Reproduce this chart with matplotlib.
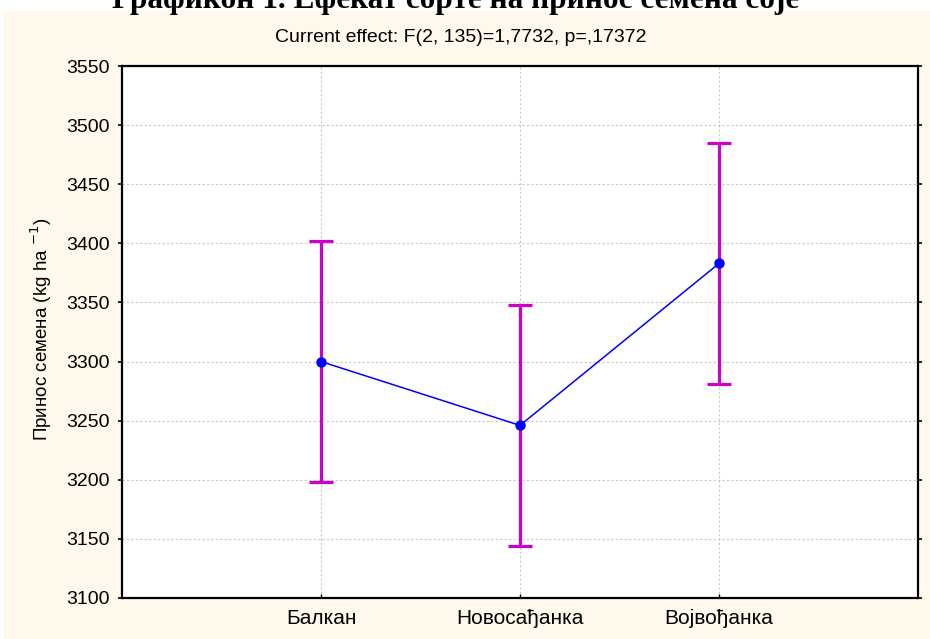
import numpy as np
import matplotlib.pyplot as plt
from matplotlib.patches import Rectangle

# variety means and 95% CI half-width
varieties = ["Балкан", "Новосађанка", "Војвођанка"]
means = [3300, 3246, 3383]
ci_half = [102, 102, 102]
yticks = [3100, 3150, 3200, 3250, 3300, 3350, 3400, 3450, 3500, 3550]

title = "Графикон 1. Ефекат сорте на принос семена соје"
subtitle = "Current effect: F(2, 135)=1,7732, p=,17372"
ylabel = "Принос семена (kg ha $^{-1}$)"

W, H = 930, 639
fig = plt.figure(figsize=(W / 100, H / 100), dpi=100)
fig.patch.set_facecolor("white")

# beige panel behind the graph
fig.patches.append(Rectangle((4 / W, 0), 1 - 4 / W, 1 - 11 / H, transform=fig.transFigure,
                             facecolor="#FEF9EC", edgecolor="none", zorder=-10))

# bold title, cut at the top edge like in the source image
fig.text(0.49, 1 - 8 / H, title, ha="center", va="baseline",
         fontsize=22.5, fontweight="bold", family="Liberation Serif", color="black")

fig.text(461 / W, 1 - 38 / H, subtitle, ha="center", va="center",
         fontsize=14, family="Liberation Sans")

ax = fig.add_axes([122 / W, 1 - 598 / H, (918 - 122) / W, (598 - 66) / H])
ax.set_facecolor("white")
ax.set_zorder(1)

x = np.arange(len(varieties))
ax.errorbar(x, means, yerr=ci_half, fmt="none", ecolor="#CC00CC", elinewidth=2.3,
            capsize=8.5, capthick=2.3, zorder=3)
ax.plot(x, means, color="#0000FF", lw=1.1, marker="o", ms=6.5,
        markerfacecolor="#0000FF", markeredgecolor="#0000FF", zorder=4)

ax.set_xlim(-1, 3)
ax.set_ylim(3100, 3550)
ax.set_xticks(x)
ax.set_xticklabels(varieties)
ax.set_yticks(yticks)

ax.grid(True, color="#C8C8C8", linestyle=(0, (2, 2)), linewidth=0.8)
ax.set_axisbelow(True)

for s in ax.spines.values():
    s.set_linewidth(1.6)
    s.set_color("black")

ax.tick_params(axis="y", which="both", direction="out", length=3, width=1.2,
               labelsize=14, pad=6, right=True)
ax.tick_params(axis="x", direction="in", length=3, width=1.0, labelsize=15, pad=8)

for lbl in ax.get_xticklabels() + ax.get_yticklabels():
    lbl.set_family("Liberation Sans")

ax.set_ylabel(ylabel, fontsize=13.5, family="Liberation Sans")
ax.yaxis.set_label_coords(-0.086, 0.505)

fig.savefig("out.png", dpi=100)
